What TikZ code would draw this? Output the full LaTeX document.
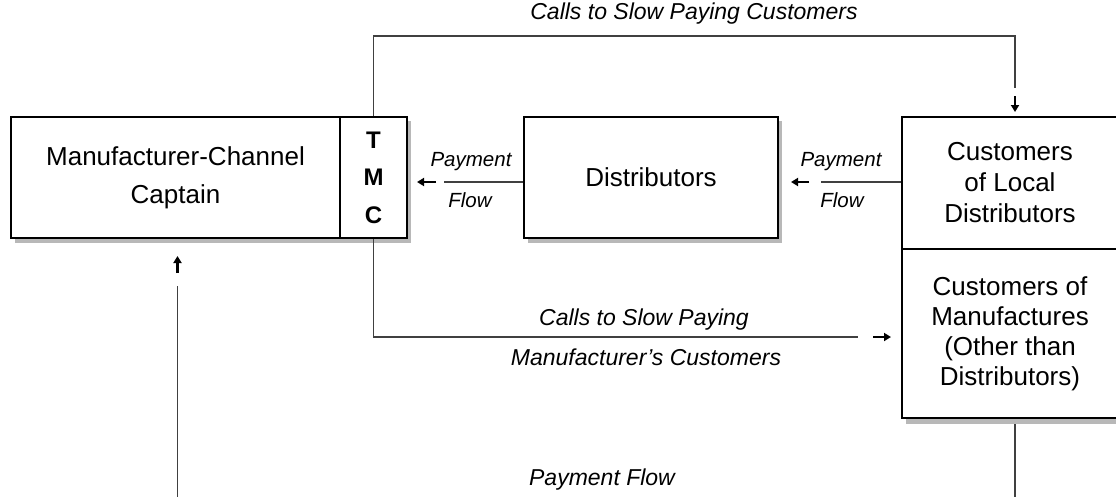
\documentclass[tikz,border=0pt]{standalone}
\usepackage{fontspec}
\setmainfont{Liberation Sans}
\usetikzlibrary{arrows.meta,calc}
\definecolor{shadowc}{gray}{0.72}
\begin{document}
\begin{tikzpicture}[x=1pt,y=-1pt,
  boxnode/.style={draw=black,line width=1.9pt,fill=white,inner sep=0pt,align=center,
    font=\fontsize{26}{38}\selectfont},
  conn/.style={draw=black!75,line width=1.8pt},
  arr/.style={draw=black,line width=2.6pt,-{Triangle[length=7pt,width=8pt]}},
  lbl/.style={font=\fontsize{23}{27}\itshape\selectfont,inner sep=0pt},
  slbl/.style={font=\fontsize{20.5}{24}\itshape\selectfont,inner sep=0pt}]
\useasboundingbox (0,0) rectangle (1116,496);
% shadows
\fill[shadowc] (15,121) rectangle (411,243);
\fill[shadowc] (528,121) rectangle (782,243);
\fill[shadowc] (906,121) rectangle (1122,424);
% boxes
\node[boxnode,minimum width=329pt,minimum height=121pt] (mcc) at (175.5,177.5)
  {Manufacturer-Channel\\Captain};
\node[boxnode,minimum width=67pt,minimum height=121pt,
  font=\fontsize{24}{37.5}\bfseries\selectfont] (tmc) at (373.5,177.5) {T\\M\\C};
\node[boxnode,minimum width=254pt,minimum height=121pt] (dist) at (651,177.5) {Distributors};
\node[boxnode,minimum width=216pt,minimum height=132pt,
  font=\fontsize{26}{31}\selectfont] (cld) at (1010,183) {Customers\\of Local\\Distributors};
\node[boxnode,minimum width=216pt,minimum height=169pt,
  font=\fontsize{26}{30}\selectfont] (cmf) at (1010,333.5) {Customers of\\Manufactures\\(Other than\\Distributors)};
% top connector
\coordinate (t1) at (1015,88);
\coordinate (t2) at (1015,96);
\coordinate (t3) at (1015,112);
\draw[conn] (tmc.north) |- (373.5,36) -| (t1);
\draw[arr] (t2) -- (t3);
\node[lbl] (ltop) at (694,14) {Calls to Slow Paying Customers};
% payment flow distributors -> TMC
\coordinate (p1) at (444,182);
\coordinate (p1a) at (436,182);
\coordinate (p1b) at (417,182);
\draw[conn] (dist.west |- p1) -- (p1);
\draw[arr] (p1a) -- (p1b);
\node[slbl] (pay1) at (471,162) {Payment};
\node[slbl] (flow1) at (470,200) {Flow};
% payment flow customers -> distributors
\coordinate (p2) at (821,182);
\coordinate (p2a) at (809,182);
\coordinate (p2b) at (791,182);
\draw[conn] (cld.west |- p2) -- (p2);
\draw[arr] (p2a) -- (p2b);
\node[slbl] (pay2) at (841,162) {Payment};
\node[slbl] (flow2) at (842,200) {Flow};
% calls to slow paying manufacturer's customers
\coordinate (c1) at (858,337);
\coordinate (c2) at (873,337);
\coordinate (c3) at (891,337);
\draw[conn] (tmc.south) |- (c1);
\draw[arr] (c2) -- (c3);
\node[lbl] (lcall1) at (644,320) {Calls to Slow Paying};
\node[lbl] (lcall2) at (646,357) {Manufacturer's Customers};
% bottom payment flow
\coordinate (b1) at (1015,424);
\coordinate (b2) at (1015,500);
\coordinate (b3) at (177.5,500);
\coordinate (b4) at (177.5,286);
\coordinate (b5) at (177.5,273);
\coordinate (b6) at (177.5,256);
\draw[conn] (b1) -- (b2);
\draw[conn] (b3) -- (b4);
\draw[arr] (b5) -- (b6);
\node[lbl] (lpay) at (602,480) {Payment Flow};
\end{tikzpicture}
\end{document}
